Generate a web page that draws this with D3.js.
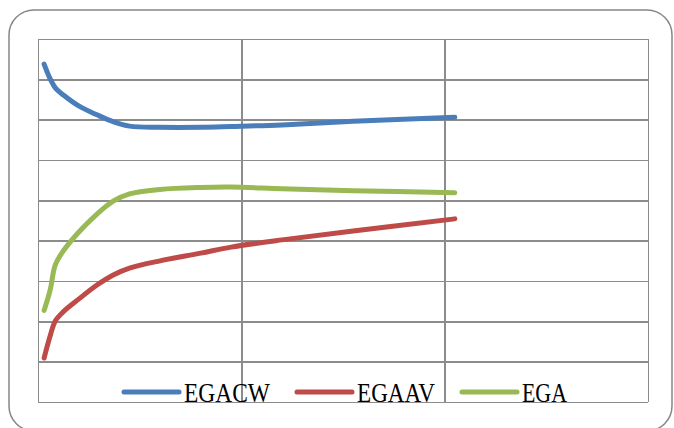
<!DOCTYPE html>
<html>
<head>
<meta charset="utf-8">
<script src="https://cdn.jsdelivr.net/npm/d3@7"></script>
<style>
  html, body { margin: 0; padding: 0; background: #fff; }
  svg { display: block; }
</style>
</head>
<body>
<svg id="chart" width="674" height="428"></svg>
<script>
// Sample positions along the horizontal axis (shared by all series)
const xValues = [0.3, 0.6, 0.85, 1.25, 2, 2.9, 3.7, 4.5, 6, 8, 9.5, 12, 15.5, 20.5];

// Series values
const egacw = [8.38, 8.01, 7.79, 7.61, 7.34, 7.12, 6.95, 6.84, 6.81, 6.81, 6.83, 6.87, 6.96, 7.06];
const egaav = [1.09, 1.64, 2.01, 2.24, 2.55, 2.90, 3.15, 3.32, 3.50, 3.69, 3.84, 4.02, 4.24, 4.54];
const ega   = [2.27, 2.78, 3.40, 3.75, 4.21, 4.66, 4.98, 5.16, 5.27, 5.32, 5.33, 5.29, 5.24, 5.19];

const seriesNames = ["EGACW", "EGAAV", "EGA"];
const seriesColors = ["#4a7ebb", "#be4b48", "#98b954"];

// Gridline positions
const xTicks = [0, 10, 20, 30];
const yTicks = [0, 1, 2, 3, 4, 5, 6, 7, 8, 9];

const svg = d3.select("#chart");

// Outer chart frame
svg.append("rect")
  .attr("x", 9).attr("y", 10)
  .attr("width", 663).attr("height", 421)
  .attr("rx", 25).attr("ry", 25)
  .attr("fill", "#fff")
  .attr("stroke", "#868686")
  .attr("stroke-width", 1.5);

const plot = { left: 38, right: 648, top: 39, bottom: 402 };

const x = d3.scaleLinear().domain([0, 30]).range([plot.left, plot.right]);
const y = d3.scaleLinear().domain([0, 9]).range([plot.bottom, plot.top]);

// Gridlines via axes with full-length ticks
const grid = svg.append("g").attr("class", "grid");

grid.append("g")
  .attr("transform", `translate(0,${plot.bottom})`)
  .call(d3.axisBottom(x).tickValues(xTicks).tickSize(-(plot.bottom - plot.top)).tickFormat(""))
  .call(g => g.select(".domain").remove());

grid.append("g")
  .attr("transform", `translate(${plot.left},0)`)
  .call(d3.axisLeft(y).tickValues(yTicks).tickSize(-(plot.right - plot.left)).tickFormat(""))
  .call(g => g.select(".domain").remove());

grid.selectAll("line")
  .attr("stroke", "#8c8c8c")
  .attr("stroke-width", 1.6)
  .attr("shape-rendering", "crispEdges");

// Series lines
const series = [egacw, egaav, ega].map((vals, i) => ({
  name: seriesNames[i],
  color: seriesColors[i],
  points: vals.map((v, j) => [xValues[j], v])
}));

const line = d3.line()
  .x(d => x(d[0]))
  .y(d => y(d[1]))
  .curve(d3.curveCatmullRom.alpha(0.5));

svg.append("g").selectAll("path")
  .data(series)
  .join("path")
  .attr("d", d => line(d.points))
  .attr("fill", "none")
  .attr("stroke", d => d.color)
  .attr("stroke-width", 5)
  .attr("stroke-linecap", "round")
  .attr("stroke-linejoin", "round");

// Legend
const legendItems = [
  { x1: 124, x2: 179, tx: 184, tw: 86 },
  { x1: 297, x2: 352, tx: 357, tw: 78 },
  { x1: 462, x2: 517, tx: 522, tw: 45 }
];

const legend = svg.append("g").attr("class", "legend");
legend.selectAll("line")
  .data(series)
  .join("line")
  .attr("x1", (d, i) => legendItems[i].x1)
  .attr("x2", (d, i) => legendItems[i].x2)
  .attr("y1", 392).attr("y2", 392)
  .attr("stroke", d => d.color)
  .attr("stroke-width", 5)
  .attr("stroke-linecap", "round");

legend.selectAll("text")
  .data(series)
  .join("text")
  .attr("x", (d, i) => legendItems[i].tx)
  .attr("y", 402)
  .attr("textLength", (d, i) => legendItems[i].tw)
  .attr("lengthAdjust", "spacingAndGlyphs")
  .attr("font-family", "'Liberation Serif', 'DejaVu Serif', serif")
  .attr("font-size", 28)
  .attr("fill", "#000")
  .text(d => d.name);
</script>
</body>
</html>
